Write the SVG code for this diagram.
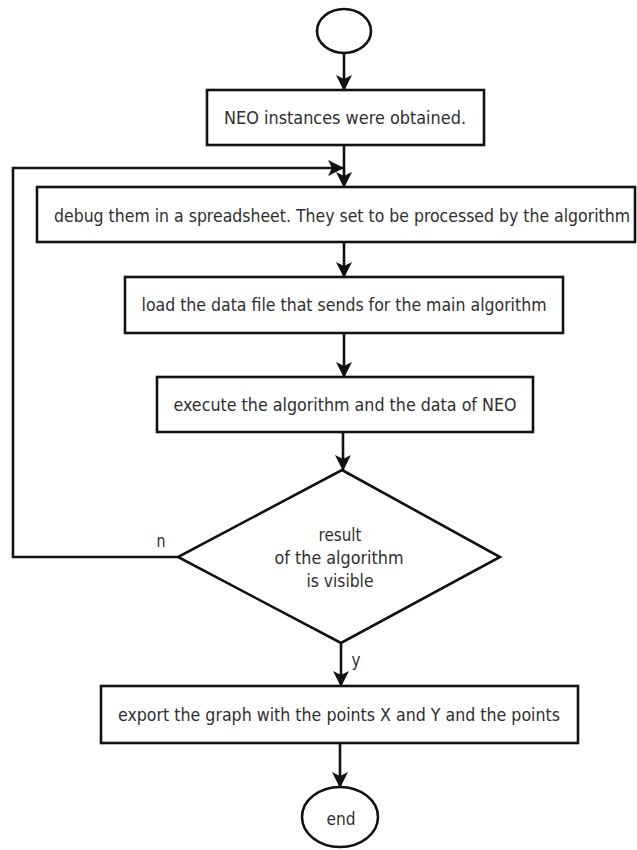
<svg xmlns="http://www.w3.org/2000/svg" width="637" height="850" viewBox="0 0 637 850">
<style>
.shape{fill:#fff;stroke:#111;stroke-width:2.6}
.conn{fill:none;stroke:#111;stroke-width:2.6}
text{font-family:"DejaVu Sans Condensed","DejaVu Sans","Liberation Sans",sans-serif;font-stretch:condensed;font-size:17.5px;fill:#2e2e2e;text-anchor:middle}
</style>
<defs>
<marker id="arr" viewBox="0 0 16 16" refX="15" refY="8" markerWidth="16" markerHeight="16" markerUnits="userSpaceOnUse" orient="auto">
<path d="M0,0 L16,8 L0,16 L4,8 z" fill="#111"/>
</marker>
</defs>
<rect width="637" height="850" fill="#fff"/>
<g id="connectors">
<line class="conn" x1="344" y1="53" x2="344" y2="90" marker-end="url(#arr)"/>
<line class="conn" x1="344" y1="145" x2="344" y2="187" marker-end="url(#arr)"/>
<polyline class="conn" points="178,557 13,557 13,168 343,168" marker-end="url(#arr)"/>
<line class="conn" x1="344" y1="242" x2="344" y2="277" marker-end="url(#arr)"/>
<line class="conn" x1="344" y1="333" x2="344" y2="377" marker-end="url(#arr)"/>
<line class="conn" x1="343" y1="432" x2="343" y2="470" marker-end="url(#arr)"/>
<line class="conn" x1="341" y1="643" x2="341" y2="686" marker-end="url(#arr)"/>
<line class="conn" x1="340" y1="743" x2="340" y2="787" marker-end="url(#arr)"/>
<text x="161" y="547" textLength="9" lengthAdjust="spacingAndGlyphs">n</text>
<text x="356" y="666" textLength="9" lengthAdjust="spacingAndGlyphs">y</text>
</g>
<g id="start">
<ellipse class="shape" cx="344" cy="31" rx="27" ry="22"/>
</g>
<g id="obtain">
<rect class="shape" x="207" y="90" width="277" height="55"/>
<text x="345" y="124" textLength="242" lengthAdjust="spacingAndGlyphs">NEO instances were obtained.</text>
</g>
<g id="debug">
<rect class="shape" x="37" y="187" width="598" height="55"/>
<text x="342" y="222" textLength="576" lengthAdjust="spacingAndGlyphs">debug them in a spreadsheet. They set to be processed by the algorithm</text>
</g>
<g id="load">
<rect class="shape" x="125" y="277" width="438" height="56"/>
<text x="344" y="311" textLength="405" lengthAdjust="spacingAndGlyphs">load the data file that sends for the main algorithm</text>
</g>
<g id="execute">
<rect class="shape" x="157" y="377" width="376" height="55"/>
<text x="345" y="411" textLength="343" lengthAdjust="spacingAndGlyphs">execute the algorithm and the data of NEO</text>
</g>
<g id="decision">
<polygon class="shape" points="342,470 500,557 341,643 178,557"/>
<text x="340" y="541" textLength="43" lengthAdjust="spacingAndGlyphs">result</text>
<text x="339" y="564" textLength="129" lengthAdjust="spacingAndGlyphs">of the algorithm</text>
<text x="340" y="587" textLength="67" lengthAdjust="spacingAndGlyphs">is visible</text>
</g>
<g id="export">
<rect class="shape" x="101" y="686" width="477" height="57"/>
<text x="339" y="721" textLength="442" lengthAdjust="spacingAndGlyphs">export the graph with the points X and Y and the points</text>
</g>
<g id="end">
<ellipse class="shape" cx="340" cy="817" rx="38" ry="30"/>
<text x="341" y="825" textLength="29" lengthAdjust="spacingAndGlyphs">end</text>
</g>
</svg>
